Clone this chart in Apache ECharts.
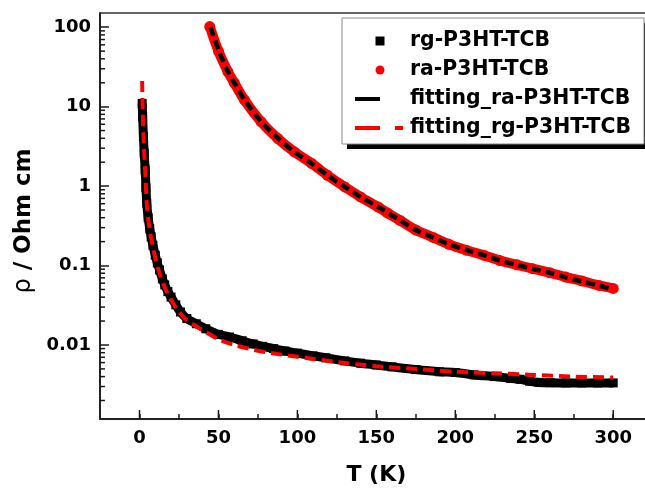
<!DOCTYPE html>
<html>
<head>
<meta charset="utf-8">
<script src="https://cdn.jsdelivr.net/npm/echarts@6/dist/echarts.min.js"></script>
<style>
html,body{margin:0;padding:0;background:#fff;}
#chart{width:645px;height:488px;}
</style>
</head>
<body>
<div id="chart"></div>
<script>
// ---- data ----
const rgT   = [1.7,2.0,2.5,3.0,3.6,4.1,4.6,5.5,6.5,7.4,8.5,10,11.3,12.7,14.5,16,18,20,23,26,30,36,42,50,57,65,72,78,85,92,100,110,118,130,140,150,160,175,190,200,212,225,235,241,247,253,260,270,280,290,300];
const rgRho = [11,7.5,4.2,2.6,1.6,0.95,0.61,0.40,0.29,0.23,0.18,0.135,0.108,0.088,0.068,0.057,0.047,0.040,0.032,0.026,0.0215,0.0185,0.016,0.0136,0.0126,0.0113,0.0103,0.0096,0.0090,0.0084,0.0079,0.0073,0.0069,0.0063,0.0059,0.0056,0.0053,0.0049,0.0046,0.0045,0.0042,0.0040,0.0038,0.0037,0.0035,0.00338,0.00335,0.00333,0.00333,0.00333,0.00333];

const raT   = [44.5,50,56,60,66.5,77,87.6,98,109,119,130,140,151,157,165,175,186,196,207,218,228,239,249,260,270,280,291,300];
const raRho = [102,50,27.5,20,12.1,6.46,3.98,2.70,1.93,1.37,0.977,0.73,0.547,0.46,0.37,0.28,0.226,0.185,0.156,0.135,0.116,0.102,0.0914,0.081,0.0716,0.064,0.0562,0.0515];

const fitRaT   = [45,50,56,60,66.5,77,87.6,98,109,119,130,140,151,165,175,186,196,207,218,228,239,249,260,270,280,291,300];
const fitRaRho = [100,52,27.5,20,12.2,6.5,4.0,2.7,1.93,1.37,0.98,0.73,0.55,0.37,0.28,0.225,0.185,0.157,0.135,0.116,0.102,0.091,0.081,0.071,0.063,0.056,0.0495];

const fitRgT   = [1.7,2.0,2.5,3.0,3.6,4.6,5.5,6.5,7.4,8.5,10,12.7,16,20,25,30,39,50,60,70,80,100,125,150,175,200,225,250,275,300];
const fitRgRho = [21,9.5,4.5,2.6,1.55,0.6,0.39,0.28,0.22,0.17,0.125,0.08,0.053,0.037,0.026,0.0205,0.0158,0.0118,0.0100,0.0089,0.0081,0.0071,0.0061,0.0054,0.0050,0.0046,0.0044,0.0042,0.0040,0.0039];

const seriesNames = ['rg-P3HT-TCB','ra-P3HT-TCB','fitting_ra-P3HT-TCB','fitting_rg-P3HT-TCB'];
const xMajorTicks = [0,50,100,150,200,250,300];
const yMinorTicks = [0.002,0.003,0.004,0.005,0.006,0.007,0.008,0.009,
                     0.02,0.03,0.04,0.05,0.06,0.07,0.08,0.09,
                     0.2,0.3,0.4,0.5,0.6,0.7,0.8,0.9,
                     2,3,4,5,6,7,8,9,
                     20,30,40,50,60,70,80,90];
const X_MIN = -25, X_MAX = 325, Y_MIN = 0.00117, Y_MAX = 151;

// ---- chart ----
const FONT = 'DejaVu Sans';
const TICK = '#1a1a1a';
const AXIS = '#222';
const zip = (a, b) => a.map((v, i) => [v, b[i]]);
const chart = echarts.init(document.getElementById('chart'), null, {renderer: 'canvas'});

const sqIcon = 'path://M0,0H10V10H0Z';
const blackLineIcon = 'path://M0,2.5H25V6.5H0Z M0,0L0,0 M50,9L50,9';
const redDashIcon = 'path://M0,2.5H25V6.5H0Z M40,2.5H48V6.5H40Z M0,0L0,0 M50,9L50,9';
const icons = [sqIcon, 'circle', blackLineIcon, redDashIcon];
const iconColors = ['#000', '#ff0000', '#000', '#ff0000'];

function fmtLog(v) {
  const e = Math.log10(v);
  const r = Math.round(e);
  if (Math.abs(e - r) > 1e-6) return '';
  return r >= 0 ? String(Math.pow(10, r)) : Math.pow(10, r).toFixed(-r);
}

const legendBase = {
  orient: 'vertical',
  itemWidth: 50, itemHeight: 9, itemGap: 9,
  padding: [13, 13, 6, 13],
  selectedMode: false
};
const LEG_FS = 20.4;

chart.setOption({
  animation: false,
  backgroundColor: '#fff',
  grid: {left: 100, top: 13, width: 552.7, height: 406, outerBoundsMode: 'none', containLabel: false},
  legend: [
    Object.assign({}, legendBase, {
      id: 'main', left: 342, top: 18, z: 6,
      backgroundColor: '#fff', borderColor: '#888', borderWidth: 1,
      textStyle: {fontFamily: FONT, fontWeight: 'bold', fontSize: LEG_FS, color: '#000'},
      data: seriesNames.map((n, i) => ({name: n, icon: icons[i], itemStyle: {color: iconColors[i], borderWidth: 0}}))
    }),
    Object.assign({}, legendBase, {
      id: 'shadow', left: 347, top: 23, z: 5,
      backgroundColor: '#000', borderWidth: 0,
      textStyle: {fontFamily: FONT, fontWeight: 'bold', fontSize: LEG_FS, color: 'rgba(0,0,0,0)'},
      data: seriesNames.map((n, i) => ({name: n, icon: icons[i], itemStyle: {color: '#000', opacity: 0, borderWidth: 0}}))
    })
  ],
  xAxis: [
    {
      type: 'value', min: X_MIN, max: X_MAX, interval: 25, position: 'bottom',
      name: 'T (K)', nameLocation: 'middle', nameGap: 45,
      nameTextStyle: {fontFamily: FONT, fontWeight: 'bold', fontSize: 22, color: '#000'},
      axisLine: {show: true, onZero: false, lineStyle: {color: AXIS, width: 2}},
      axisTick: {show: true, inside: true, length: 5, lineStyle: {color: TICK, width: 1.5}},
      axisLabel: {fontFamily: FONT, fontWeight: 'bold', fontSize: 18, color: '#000', margin: 10,
        showMinLabel: false, showMaxLabel: false,
        formatter: v => (v % 50 === 0 ? String(v) : '')},
      splitLine: {show: false}
    },
    {
      type: 'value', min: X_MIN, max: X_MAX, interval: 25, position: 'top',
      axisLine: {show: true, onZero: false, lineStyle: {color: '#333', width: 1.5}},
      axisTick: {show: false}, axisLabel: {show: false}, splitLine: {show: false}
    }
  ],
  yAxis: {
    type: 'log', logBase: 10, min: Y_MIN, max: Y_MAX,
    name: '{r|ρ}{t| / Ohm cm}', nameLocation: 'middle', nameGap: 62, nameRotate: 90,
    nameTextStyle: {
      fontFamily: FONT, fontWeight: 'bold', fontSize: 23, color: '#000', padding: [0, 10, 0, 0],
      rich: {r: {fontFamily: FONT, fontWeight: 'normal', fontSize: 24, color: '#000'},
             t: {fontFamily: FONT, fontWeight: 'bold', fontSize: 23, color: '#000'}}
    },
    axisLine: {show: true, onZero: false, lineStyle: {color: AXIS, width: 2}},
    axisTick: {show: true, inside: true, length: 9, lineStyle: {color: TICK, width: 1.5}},
    axisLabel: {fontFamily: FONT, fontWeight: 'bold', fontSize: 18, color: '#000', margin: 9,
      showMinLabel: false, showMaxLabel: false, formatter: fmtLog},
    minorTick: {show: false},
    splitLine: {show: false}
  },
  series: [
    {
      name: seriesNames[0], type: 'line', data: zip(rgT, rgRho), smooth: 0.3,
      color: '#000', symbol: 'rect', symbolSize: 9, showSymbol: true,
      lineStyle: {color: '#000', width: 9}, itemStyle: {color: '#000'}, z: 2
    },
    {
      name: seriesNames[1], type: 'line', data: zip(raT, raRho), smooth: 0.3,
      color: '#ff0000', symbol: 'circle', symbolSize: 11, showSymbol: true,
      lineStyle: {color: '#ff0000', width: 10}, itemStyle: {color: '#ff0000'}, z: 2
    },
    {
      name: seriesNames[2], type: 'line', data: zip(fitRaT, fitRaRho), smooth: 0.3,
      color: '#000', symbol: 'none', showSymbol: false,
      lineStyle: {color: '#000', width: 4.5, type: [9, 5]}, z: 3
    },
    {
      name: seriesNames[3], type: 'line', data: zip(fitRgT, fitRgRho), smooth: 0.3,
      color: '#ff0000', symbol: 'none', showSymbol: false,
      lineStyle: {color: '#ff0000', width: 4, type: [11, 6]}, z: 3
    },
    {
      name: 'yMinor', type: 'custom', data: yMinorTicks.map(v => [0, v]), z: 5, silent: true,
      renderItem: (params, api) => {
        const y = api.coord([0, api.value(1)])[1];
        const x = params.coordSys.x;
        return {type: 'line', shape: {x1: x, y1: y, x2: x + 5, y2: y}, style: {stroke: TICK, lineWidth: 1.5}};
      }
    },
    {
      name: 'xMajor', type: 'custom', data: xMajorTicks.map(v => [v, 1]), z: 5, silent: true,
      renderItem: (params, api) => {
        const x = api.coord([api.value(0), 1])[0];
        const yb = params.coordSys.y + params.coordSys.height;
        return {type: 'line', shape: {x1: x, y1: yb, x2: x, y2: yb - 9}, style: {stroke: TICK, lineWidth: 1.5}};
      }
    }
  ]
});
</script>
</body>
</html>
